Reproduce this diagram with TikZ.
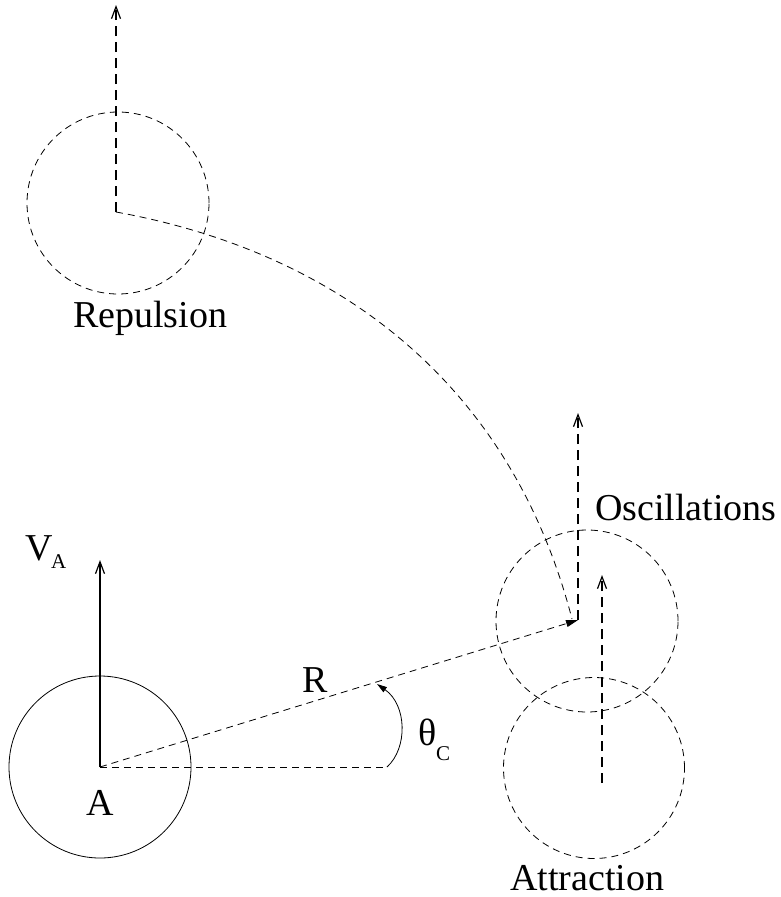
\documentclass[tikz,border=0pt]{standalone}
\usepackage{fontspec}
\setmainfont{Liberation Serif}
\usetikzlibrary{arrows.meta}
\begin{document}
\begin{tikzpicture}[x=1pt,y=-1pt,
  solidline/.style={line width=0.8pt},
  dashline/.style={line width=0.8pt, dash pattern=on 7pt off 5pt},
  thickdash/.style={line width=1.5pt, dash pattern=on 10pt off 6pt},
  openarrow/.style={-{Straight Barb[length=12pt,width=9pt,line width=1.2pt]}},
  fillarrow/.style={-{Triangle[length=12pt,width=7pt]}},
  lbl/.style={font=\fontsize{38}{38}\selectfont, inner sep=0pt, anchor=base west},
  sublbl/.style={font=\fontsize{21}{21}\selectfont, inner sep=0pt, anchor=base west},
  ring/.style={circle, minimum size=182pt, inner sep=0pt, draw, line width=0.8pt}
]
\useasboundingbox (0,0) rectangle (780,897);

% circles
\node[ring] (cA) at (100,767) {};
\node[ring, dash pattern=on 7pt off 5pt] (cRep) at (118,203) {};
\node[ring, dash pattern=on 7pt off 5pt] (cOsc) at (587,621) {};
\node[ring, dash pattern=on 7pt off 5pt, minimum size=181pt] (cAtt) at (594,768) {};

% key points
\coordinate (A) at (100,767);
\coordinate (VAtip) at (100,560);
\coordinate (repC) at (116,212);
\coordinate (repTip) at (116,5);
\coordinate (oscC) at (578,620);
\coordinate (oscTip) at (578,413);
\coordinate (curveEnd) at (572,619);
\coordinate (attB) at (602,783);
\coordinate (attTip) at (602,575);
\coordinate (hEnd) at (387,767);
\coordinate (arcEnd) at (377,684);

% velocity of A
\draw[solidline, line width=1.2pt, openarrow] (A) -- (VAtip);
% horizontal reference line
\draw[dashline] (A) -- (hEnd);
% R line
\draw[dashline, fillarrow] (A) -- (oscC);
% angle arc
\draw[solidline, -{Triangle[length=10pt,width=6pt]}] (hEnd) .. controls (408,748) and (407,705) .. (arcEnd);
% repulsion trajectory
\draw[dashline] (repC) .. controls (347,254) and (513,391) .. (curveEnd);
% vertical dashed arrows
\draw[thickdash, openarrow] (repC) -- (repTip);
\draw[thickdash, openarrow] (oscC) -- (oscTip);
\draw[thickdash, openarrow] (attB) -- (attTip);

% labels
\node[lbl] (lRep) at (73,327) {Repulsion};
\node[lbl] (lOsc) at (595,520) {Oscillations};
\node[lbl] (lAtt) at (510,890) {Attraction};
\node[lbl] (lA) at (86,815) {A};
\node[lbl] (lR) at (302,692) {R};
\node[lbl] (lV) at (25,560) {V};
\node[sublbl] (lVs) at (51,568) {A};
\node[lbl] (lTh) at (418,745) {θ};
\node[sublbl] (lThs) at (436,760) {C};
\end{tikzpicture}
\end{document}
